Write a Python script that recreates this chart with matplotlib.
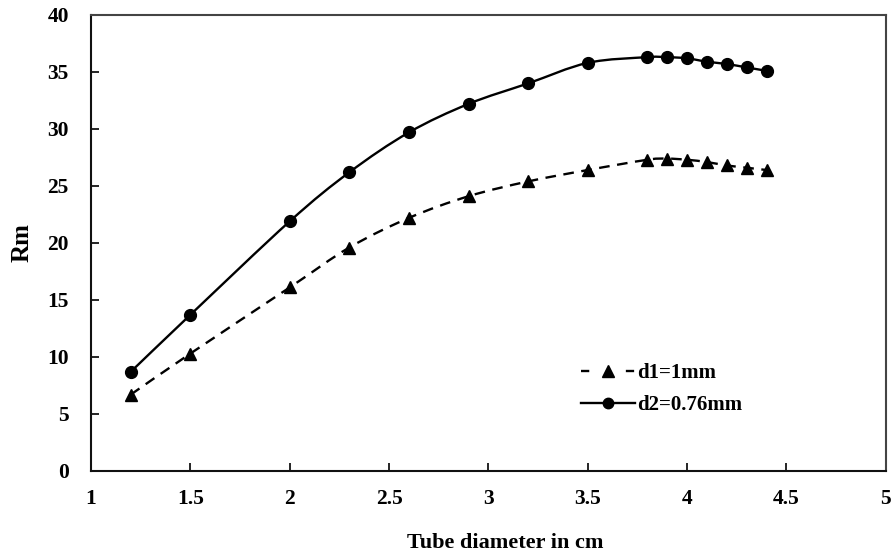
import numpy as np
import matplotlib
matplotlib.use("Agg")
import matplotlib.pyplot as plt
from matplotlib.path import Path
from matplotlib.patches import PathPatch
from matplotlib.lines import Line2D

plt.rcParams['font.family'] = ['Liberation Serif', 'DejaVu Serif']
plt.rcParams['font.weight'] = 'bold'

# tube diameter (cm)
diameter = [1.2, 1.5, 2.0, 2.3, 2.6, 2.9, 3.2, 3.5, 3.8, 3.9, 4.0, 4.1, 4.2, 4.3, 4.4]
# Rm for the two wire diameters
rm_d1 = [6.7, 10.3, 16.1, 19.6, 22.2, 24.1, 25.4, 26.4, 27.3, 27.4, 27.3, 27.1, 26.8, 26.6, 26.4]
rm_d2 = [8.7, 13.7, 21.9, 26.2, 29.7, 32.2, 34.0, 35.8, 36.3, 36.3, 36.2, 35.9, 35.7, 35.4, 35.1]

xticks = [1, 1.5, 2, 2.5, 3, 3.5, 4, 4.5, 5]
xtick_labels = ['1', '1.5', '2', '2.5', '3', '3.5', '4', '4.5', '5']
yticks = [0, 5, 10, 15, 20, 25, 30, 35, 40]


def smooth_path(xs, ys):
    # catmull-rom style bezier through every point (like a spreadsheet "smoothed line")
    pts = np.column_stack([xs, ys])
    verts = [pts[0]]
    codes = [Path.MOVETO]
    n = len(pts)
    for i in range(n - 1):
        p0 = pts[i - 1] if i > 0 else pts[i]
        p1 = pts[i]
        p2 = pts[i + 1]
        p3 = pts[i + 2] if i + 2 < n else pts[i + 1]
        c1 = p1 + (p2 - p0) / 6.0
        c2 = p2 - (p3 - p1) / 6.0
        verts += [c1, c2, p2]
        codes += [Path.CURVE4] * 3
    return Path(verts, codes)


fig = plt.figure(figsize=(8.95, 5.55), dpi=100)
ax = fig.add_axes([0.1017, 0.1514, 0.888, 0.8216])

ax.add_patch(PathPatch(smooth_path(diameter, rm_d1), fill=False, color='black',
                       lw=1.7, linestyle=(0, (4.5, 3.2)), zorder=2))
ax.add_patch(PathPatch(smooth_path(diameter, rm_d2), fill=False, color='black',
                       lw=1.7, zorder=2))
ax.plot(diameter, rm_d1, linestyle='none', marker='^', ms=9, color='black', zorder=3)
ax.plot(diameter, rm_d2, linestyle='none', marker='o', ms=8.5, color='black', zorder=3)

ax.set_xlim(1, 5)
ax.set_ylim(0, 40)
ax.set_xticks(xticks)
ax.set_xticklabels(xtick_labels)
ax.set_yticks(yticks)
ax.tick_params(direction='in', length=6, width=1.2, labelsize=15.5)
ax.tick_params(axis='x', pad=13)
ax.tick_params(axis='y', pad=16)
for lbl in ax.get_xticklabels() + ax.get_yticklabels():
    lbl.set_fontweight('bold')
for name, s in ax.spines.items():
    s.set_linewidth(1.5)
    s.set_color('#111111' if name in ('left', 'bottom') else '#444444')

ax.set_xlabel('Tube diameter in cm', fontsize=16, fontweight='bold')
ax.xaxis.set_label_coords(0.521, -0.137)
ax.set_ylabel('Rm', fontsize=18, fontweight='bold', labelpad=10)

handles = [
    Line2D([], [], color='black', lw=1.7, linestyle=(0, (3.5, 15.5)), marker='^', ms=8),
    Line2D([], [], color='black', lw=1.7, marker='o', ms=7.5),
]
ax.legend(handles, ['d1=1mm', 'd2=0.76mm'], frameon=False, loc='upper left',
          bbox_to_anchor=(0.593, 0.278), prop={'size': 15, 'weight': 'bold'},
          handlelength=2.6, handletextpad=0.1, labelspacing=0.6)

fig.savefig('out.png', dpi=100)
